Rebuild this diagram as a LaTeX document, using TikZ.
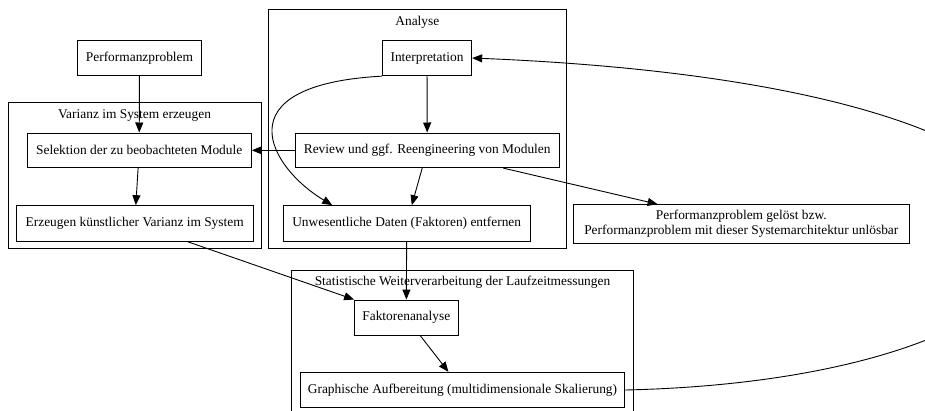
\documentclass[tikz,border=0pt]{standalone}
\usepackage{fontspec}
\setmainfont{Liberation Serif}
\usetikzlibrary{arrows.meta, positioning, calc}
\tikzset{
  box/.style={rectangle, draw, line width=0.9pt, inner sep=0pt, minimum height=35.4pt,
              align=center, font=\fontsize{13.4}{14.5}\selectfont},
  % Rahmen eines Clusters
  clu/.style={rectangle, draw, line width=0.9pt, inner sep=0pt},
  clbl/.style={inner sep=0pt, font=\fontsize{13.4}{14.5}\selectfont},
  ar/.style={-{Triangle[length=10pt, width=8pt]}, line width=0.9pt}
}

\begin{document}
\begin{tikzpicture}[x=1pt,y=-1pt]
    \clip[use as bounding box] (0,0) rectangle (925,410);

    % ---- Cluster ----
    \node[clu, minimum width=253pt, minimum height=145.3pt] (cvar) at (134.5,175.35) {};
    \node[clu, minimum width=297.3pt, minimum height=238.7pt] (cana) at (417.35,128.65) {};
    \node[clu, minimum width=341.4pt, minimum height=150pt] (csta) at (462.5,345) {};
    \node[clbl] (lvar) at (134.5,115.5) {Varianz im System erzeugen};
    \node[clbl] (lana) at (417.35,22.3) {Analyse};
    \node[clbl] (lsta) at (462.5,282.5) {Statistische Weiterverarbeitung der Laufzeitmessungen};

    % ---- Knoten ----
    \node[box, minimum width=123.6pt] (perf) at (139.5,58) {Performanzproblem};
    \node[box, minimum width=89.4pt] (interp) at (427,58) {Interpretation};
    \node[box, minimum width=224.3pt, minimum height=34.7pt] (sel) at (139.2,150.3) {Selektion der zu beobachteten Module};
    \node[box, minimum width=263.7pt, minimum height=34.7pt] (rev) at (427.2,150.3) {Review und ggf. Reengineering von Modulen};
    \node[box, minimum width=237.3pt] (erz) at (134.7,223.3) {Erzeugen künstlicher Varianz im System};
    \node[box, minimum width=247.3pt] (unw) at (406.7,223.3) {Unwesentliche Daten (Faktoren) entfernen};
    \node[box, minimum width=336pt, minimum height=38.3pt] (done) at (741.3,223.8)
      {Performanzproblem gelöst bzw.\\ Performanzproblem mit dieser Systemarchitektur unlösbar};
    \node[box, minimum width=104.3pt] (fak) at (406.3,317.7) {Faktorenanalyse};
    \node[box, minimum width=324.4pt] (gra) at (462.5,390) {Graphische Aufbereitung (multidimensionale Skalierung)};

    % ---- Kanten ----
    \draw[ar] (perf) -- (sel);
    \draw[ar] (interp) -- (rev);
    \draw[ar] (rev) -- (sel);
    \draw[ar] (sel) -- (erz);
    \draw[ar] (rev) -- (unw);
    \draw[ar] (rev) -- (done);
    \draw[ar] (erz) -- (fak);
    \draw[ar] (unw) -- (fak);
    \draw[ar] (fak) -- (gra);
    \draw[ar] (interp.south west) .. controls (220,85) and (270,168) .. ($(unw.north west)!0.2!(unw.north east)$);
    \draw[ar] (gra.east) .. controls (1150,378) and (1250,90) .. (interp.east);
\end{tikzpicture}
\end{document}
